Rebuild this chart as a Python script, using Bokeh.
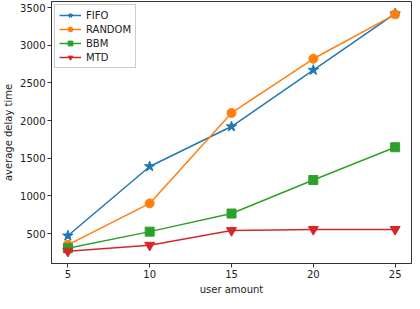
from bokeh.plotting import figure
from bokeh.models import Range1d, FixedTicker
from bokeh.embed import file_html
from bokeh.resources import INLINE

users = [5, 10, 15, 20, 25]
fifo = [470, 1390, 1920, 2670, 3420]
random_ = [350, 900, 2100, 2820, 3410]
bbm = [305, 525, 765, 1210, 1645]
mtd = [265, 345, 540, 555, 555]
x_ticks = [5, 10, 15, 20, 25]
y_ticks = [500, 1000, 1500, 2000, 2500, 3000, 3500]

FONT = "DejaVu Sans"

p = figure(frame_width=360, frame_height=262, output_backend="svg", toolbar_location=None,
           x_range=Range1d(4, 26), y_range=Range1d(102, 3580),
           min_border_left=0, min_border_right=2, min_border_top=1, min_border_bottom=0)

p.xgrid.visible = False
p.ygrid.visible = False
p.outline_line_color = "#333333"
p.outline_line_width = 1
p.outline_line_alpha = 1

for ax in (p.xaxis[0], p.yaxis[0]):
    ax.major_label_text_font = FONT
    ax.major_label_text_font_size = "10px"
    ax.major_label_text_color = "#222222"
    ax.axis_label_text_font = FONT
    ax.axis_label_text_font_size = "10px"
    ax.axis_label_text_font_style = "normal"
    ax.axis_label_text_color = "#222222"
    ax.axis_line_color = "#333333"
    ax.major_tick_line_color = "#333333"
    ax.major_tick_out = 4
    ax.major_tick_in = 0
    ax.minor_tick_line_color = None
    ax.axis_label_standoff = 3
    ax.major_label_standoff = 2

p.xaxis.axis_label = "user amount"
p.yaxis.axis_label = "average delay time"
p.xaxis.ticker = FixedTicker(ticks=x_ticks)
p.yaxis.ticker = FixedTicker(ticks=y_ticks)

series = [
    ("FIFO", fifo, "#1f77b4", "star", 11),
    ("RANDOM", random_, "#ff7f0e", "circle", 9),
    ("BBM", bbm, "#2ca02c", "square", 9),
    ("MTD", mtd, "#d62728", "inverted_triangle", 10),
]
for name, ys, color, marker, size in series:
    p.line(users, ys, line_color=color, line_width=1.5, legend_label=name)
    p.scatter(users, ys, marker=marker, size=size, fill_color=color,
              line_color=color, legend_label=name)

lg = p.legend[0]
lg.location = "top_left"
lg.label_text_font = FONT
lg.label_text_font_size = "10px"
lg.label_text_color = "#222222"
lg.border_line_color = "#cccccc"
lg.border_line_alpha = 1
lg.background_fill_alpha = 0.8
lg.glyph_width = 22
lg.glyph_height = 12
lg.label_height = 12
lg.spacing = 2
lg.padding = 4
lg.margin = 3
lg.label_standoff = 5

open("out.html", "w").write(file_html(p, INLINE))
